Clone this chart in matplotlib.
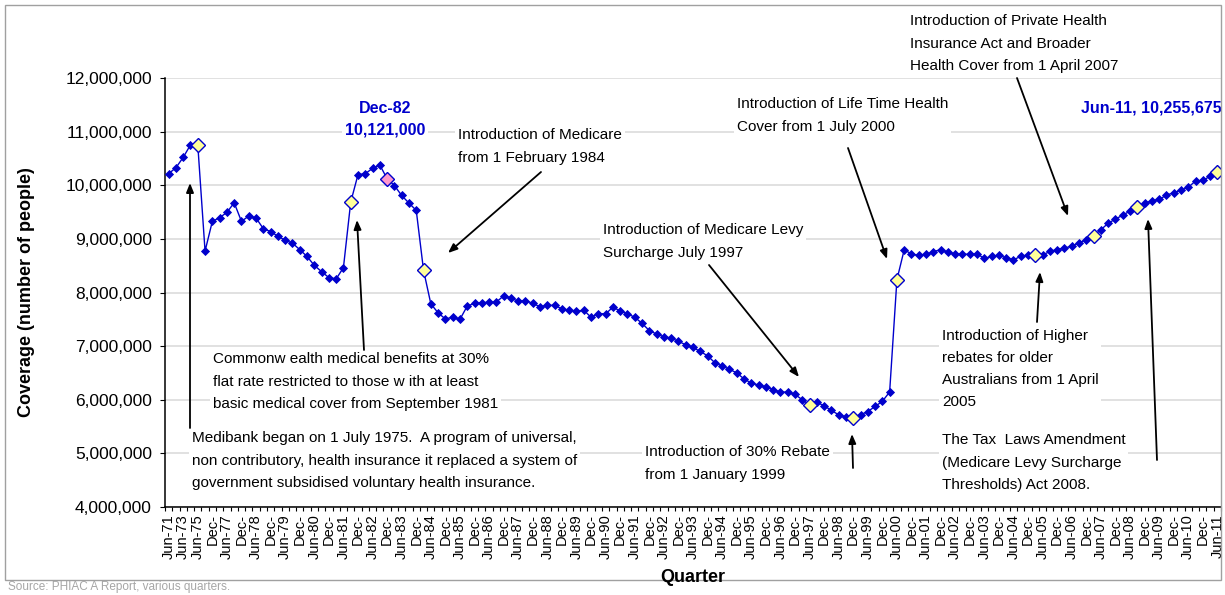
import numpy as np
import matplotlib.pyplot as plt
from matplotlib.patches import Rectangle
from matplotlib.ticker import FuncFormatter, MultipleLocator

W, H = 1225, 595

# Private health insurance coverage, millions of people (Jun-71 .. Jun-11)
coverage_m = [
    10.216, 10.327, 10.520, 10.753, 10.755, 8.772, 9.327, 9.395, 9.494, 9.673,
    9.327, 9.426, 9.389, 9.191, 9.136, 9.049, 8.975, 8.920, 8.800, 8.673,
    8.506, 8.389, 8.278, 8.253, 8.463, 9.685, 10.198, 10.216, 10.315, 10.377,
    10.121, 9.994, 9.809, 9.667, 9.531, 8.414, 7.790, 7.620, 7.506, 7.538,
    7.500, 7.747, 7.797, 7.810, 7.816, 7.823, 7.937, 7.899, 7.835, 7.848,
    7.797, 7.734, 7.760, 7.760, 7.696, 7.665, 7.646, 7.670, 7.538, 7.608,
    7.600, 7.727, 7.656, 7.600, 7.540, 7.425, 7.290, 7.225, 7.175, 7.150,
    7.090, 7.025, 6.975, 6.900, 6.820, 6.690, 6.630, 6.570, 6.500, 6.390,
    6.310, 6.275, 6.240, 6.190, 6.140, 6.145, 6.100, 6.000, 5.907, 5.950,
    5.890, 5.800, 5.720, 5.680, 5.654, 5.720, 5.780, 5.876, 5.970, 6.145,
    8.240, 8.796, 8.720, 8.690, 8.710, 8.760, 8.800, 8.750, 8.720, 8.710,
    8.716, 8.720, 8.636, 8.673, 8.690, 8.650, 8.610, 8.673, 8.700, 8.700,
    8.700, 8.765, 8.800, 8.830, 8.860, 8.930, 8.980, 9.060, 9.170, 9.290,
    9.370, 9.440, 9.520, 9.600, 9.660, 9.710, 9.735, 9.815, 9.860, 9.910,
    9.960, 10.080, 10.090, 10.167, 10.255675,
]

# every second category is labelled
tick_labels = [
    "Jun-71", "Jun-73", "Jun-75", "Dec-", "Jun-77", "Dec-", "Jun-78", "Dec-",
    "Jun-79", "Dec-", "Jun-80", "Dec-", "Jun-81", "Dec-", "Jun-82", "Dec-",
    "Jun-83", "Dec-", "Jun-84", "Dec-", "Jun-85", "Dec-", "Jun-86", "Dec-",
    "Jun-87", "Dec-", "Jun-88", "Dec-", "Jun-89", "Dec-", "Jun-90", "Dec-",
    "Jun-91", "Dec-", "Jun-92", "Dec-", "Jun-93", "Dec-", "Jun-94", "Dec-",
    "Jun-95", "Dec-", "Jun-96", "Dec-", "Jun-97", "Dec-", "Jun-98", "Dec-",
    "Jun-99", "Dec-", "Jun-00", "Dec-", "Jun-01", "Dec-", "Jun-02", "Dec-",
    "Jun-03", "Dec-", "Jun-04", "Dec-", "Jun-05", "Dec-", "Jun-06", "Dec-",
    "Jun-07", "Dec-", "Jun-08", "Dec-", "Jun-09", "Dec-", "Jun-10", "Dec-",
    "Jun-11",
]

# quarters where a policy change is marked, and the Dec-82 peak
policy_idx = [4, 25, 35, 88, 94, 100, 119, 127, 133, 144]
peak_idx = 30

BLUE = "#0000CC"

plt.rcParams['font.family'] = ['Liberation Sans', 'DejaVu Sans']

coverage = np.array(coverage_m) * 1e6
x = np.arange(len(coverage))

fig = plt.figure(figsize=(W / 100, H / 100), dpi=100)
ax = fig.add_axes([165 / W, 1 - 507 / H, (1221 - 165) / W, (507 - 78) / H])

ax.plot(x, coverage, color=BLUE, lw=1.0, marker='D', ms=4,
        mfc=BLUE, mec=BLUE, mew=0.6, zorder=3)
ax.plot(x[policy_idx], coverage[policy_idx], ls='none', marker='D', ms=7,
        mfc='#FFFF99', mec=BLUE, mew=1, zorder=4)
ax.plot(x[peak_idx], coverage[peak_idx], ls='none', marker='D', ms=7,
        mfc='#FF99CC', mec=BLUE, mew=1, zorder=4)

ax.set_xlim(-0.5, len(x) - 0.5)
ax.set_ylim(4e6, 12e6)
ax.yaxis.set_major_locator(MultipleLocator(1e6))
ax.yaxis.set_major_formatter(FuncFormatter(lambda v, p: f"{v:,.0f}"))
ax.grid(axis='y', color='#d9d9d9', lw=1.1)
ax.set_axisbelow(True)
for s in ['top', 'right']:
    ax.spines[s].set_visible(False)
for s in ['left', 'bottom']:
    ax.spines[s].set_linewidth(1.1)

# tick marks between categories, labels on every second category
ax.set_xticks(np.arange(-0.5, len(x), 1))
ax.set_xticklabels([])
ax.set_xticks(x[::2], minor=True)
ax.set_xticklabels(tick_labels, minor=True, rotation=90, fontsize=10.5)
ax.tick_params(axis='x', which='major', length=3, width=0.8, direction='out')
ax.tick_params(axis='x', which='minor', length=0, pad=5)
ax.tick_params(axis='y', length=3.5, width=0.8, labelsize=12.5, pad=6)


def px(xp, yp):
    return xp / W, 1 - yp / H


def note(text, xp, yp, **kw):
    opts = dict(ha='left', va='center', fontsize=11, linespacing=1.73,
                zorder=5, bbox=dict(fc='white', ec='none', pad=2))
    opts.update(kw)
    ax.text(*px(xp, yp), text, transform=fig.transFigure, **opts)


def arrow(x0, y0, x1, y1):
    ax.annotate('', xy=(x1, H - y1), xytext=(x0, H - y0),
                xycoords='figure pixels', textcoords='figure pixels',
                arrowprops=dict(arrowstyle='-|>,head_length=0.55,head_width=0.22',
                                color='black', lw=1.3, shrinkA=0, shrinkB=0),
                annotation_clip=False, zorder=6)


note("Medibank began on 1 July 1975.  A program of universal,\n"
     "non contributory, health insurance it replaced a system of\n"
     "government subsidised voluntary health insurance.", 192, 460.5)
arrow(190, 428, 190, 183)

note("Commonw ealth medical benefits at 30%\n"
     "flat rate restricted to those w ith at least\n"
     "basic medical cover from September 1981", 213, 381.5)
arrow(364, 350, 357, 220)

note("Introduction of Medicare\nfrom 1 February 1984", 458, 146.5)
arrow(541, 172, 448, 253)

note("Introduction of Medicare Levy\nSurcharge July 1997", 603, 241.5)
arrow(709, 265, 799, 377)

note("Introduction of 30% Rebate\nfrom 1 January 1999", 645, 463.5)
arrow(853, 468, 852, 434)

note("Introduction of Life Time Health\nCover from 1 July 2000", 737, 115.5)
arrow(848, 148, 887, 259)

note("Introduction of Private Health\nInsurance Act and Broader\n"
     "Health Cover from 1 April 2007", 910, 43.5)
arrow(1017, 78, 1068, 216)

note("Introduction of Higher\nrebates for older\nAustralians from 1 April\n2005",
     942, 369)
arrow(1037, 322, 1040, 272)

note("The Tax  Laws Amendment\n(Medicare Levy Surcharge\nThresholds) Act 2008.",
     942, 462.5)
arrow(1157, 460, 1148, 219)

note("Dec-82\n10,121,000", 385, 119.5, ha='center', multialignment='center',
     fontsize=11.5, fontweight='bold', color=BLUE, linespacing=1.57)
note("Jun-11, 10,255,675", 1222, 108, ha='right', fontsize=11.5,
     fontweight='bold', color=BLUE)

fig.text(*px(27, 292), "Coverage (number of people)", rotation=90,
         ha='center', va='center', fontsize=13, fontweight='bold')
fig.text(*px(693, 578), "Quarter", ha='center', va='center',
         fontsize=13, fontweight='bold')
fig.text(*px(8, 587), "Source: PHIAC A Report, various quarters.",
         ha='left', va='center', fontsize=8.5, color='#a6a6a6')

fig.add_artist(Rectangle((5 / W, 1 - 580 / H), (1221 - 5) / W, (580 - 5) / H,
                         transform=fig.transFigure, fill=False,
                         ec='#a0a0a0', lw=1))

fig.savefig("out.png", dpi=100)
